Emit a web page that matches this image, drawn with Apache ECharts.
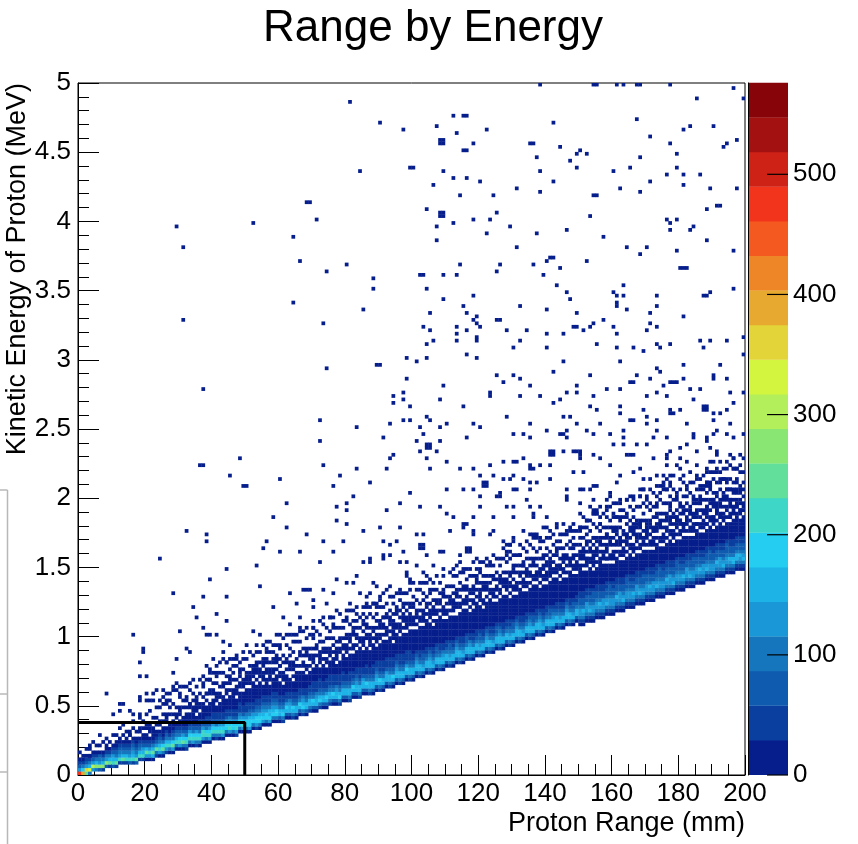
<!DOCTYPE html>
<html>
<head>
<meta charset="utf-8">
<script src="https://cdn.jsdelivr.net/npm/echarts@6.0.0/dist/echarts.min.js"></script>
<style>
html,body{margin:0;padding:0;background:#fff;}
#chart{width:858px;height:844px;}
</style>
</head>
<body>
<div id="chart"></div>
<script>
// ---- histogram definition ----
var xBin = 1;        // mm per bin (200 bins over 0..200)
var yBin = 0.025;    // MeV per bin (200 bins over 0..5)
var zStep = 28.8;    // counts per colour contour (20 contours)

var xTicks = [0, 20, 40, 60, 80, 100, 120, 140, 160, 180, 200];
var yTicks = [0, 0.5, 1, 1.5, 2, 2.5, 3, 3.5, 4, 4.5, 5];
var zTicks = [0, 100, 200, 300, 400, 500];

var paletteColors = ['#061e8c','#0a3e9f','#0f5bb0','#1576bd','#1a97d6','#1db3e7','#25cef1','#3ed6c6','#62df9a','#8ae672',
                     '#b2ef5a','#d4f540','#e3d43a','#e7a92f','#ee8526','#f45a20','#f3341c','#cf2216','#a31210','#870509'];

var cutLine = [[0, 0.38], [50, 0.38], [50, 0]];

// contour level of each cell along the main band, one string per x bin,
// starting at y bin bandBase[x]; '.' = empty, '1'..'9','a'..'k' = level 1..20
var levelChars = '123456789abcdefghijk';
var bandBase = [
 0,0,0,0,1,1,1,1,2,2,
 2,2,3,3,3,3,3,3,4,4,
 4,4,4,5,5,5,6,6,6,7,
 7,7,7,8,8,8,8,9,9,9,
 10,10,10,10,11,11,11,11,12,12,
 12,12,13,13,13,14,14,14,15,15,
 15,15,16,16,16,16,17,17,17,18,
 18,18,19,19,19,20,20,20,20,21,
 21,21,22,22,22,23,23,23,23,24,
 24,24,25,25,25,26,26,26,27,27,
 27,28,28,28,29,29,29,30,30,30,
 31,31,31,32,32,32,33,33,33,34,
 34,34,35,35,35,36,36,36,37,37,
 37,38,38,38,39,39,39,40,40,40,
 41,41,41,42,42,42,43,43,43,44,
 43,43,44,44,44,45,45,45,46,46,
 46,47,47,47,48,48,48,49,49,49,
 50,50,50,51,51,51,52,52,52,53,
 53,53,54,54,54,55,55,55,56,56,
 56,57,57,57,58,58,58,59,59,59
];
var bandLevels = [
 // 0-9
 "h5321.1","e74211","9d5321.1","4c6421.1","5b5321..1","4a6421.1","3a5431.1","2a6421..1","3a54211.1","296421.1",
 // 10-19
 "3865321..1","29643211.1","28543211","2964321.1..1","28643211.1","3854321.11","28654321..1.1","39543211.1","2864321.11..1","28653211.1.1",
 // 20-29
 "15963211.11..1...1","1585321.111...1..1","1696421111..1....1","24953211.1.1..1...","15864321.11...1.1","149742111.1.1....1","25864321.111..1..1","148642111..1.1...1","1597432111.1..1...1","14864321.11.1....1.1",
 // 30-39
 "158743211.111..1..1","1497532111..1.1...1","24874321111.1..1..1","1487532111.11...1.1","15874321111..1.1...1","248753211.111.1..1","1487432211.11..1...1","158853211111.1..1..1","14874322111.1.1...1","158753221111..11..1.1",
 // 40-49
 "148753221111.11.1..1...1","2487432211.111..1.1..1","14875322111.11.1...1..1","1587532211111..11..1...1","14775322111.11.1.1...1","158754221111.1.11..1..1","14775322111111..1.1...1","25875322111.111.1...1..1","147754222111.11.11..1","158753221111.111..1..1.1",
 // 50-59
 "1477542221111.1.11...1","1577643221111.111..1...1","14765322111111.11.1..1","2577543221111.1.111...1.1","14776432211111..11.1..1","157654322111.111.1.1...1","14775432211111.11..1.1..1","157664322111.1111.1..1..1","1476543221111.11.11...1","14775432211111.1.111..1..1",
 // 60-69
 "136643221111.11.1.1..1...1","24764322111.111..1.1....1","1367532211111.1.11...1..1","136654221111..111.1.1...1","24674322111.1.111..1..1","13664322111111.1.1....1.1","1367432211111.1..11..1...1","2476542211111.11.1.1....1","136643221111.11..111..1..1","246643221111.1.11.1...1",
 // 70-79
 "1367432221111.111.1..1..1.1","13665422211111..1.11...1","247643222111.1111..1.1...1","1366432211111.1.11.1....1.1","136753222111.11.11..1..1","2466432221111.111..1.1...1","13674322211111.1.1.1..1..1","136654222111.1111.1...1","2476432221111..11.11..1...1","13664322211111.11.1..1.1",
 // 80-89
 "1366432211111.111.11...1..1","24664322211111.1.111..1...1","1367432211111.11..111.1..1","13665432211111.1.11.1...1.1","246643222111111.11..1..1","1366532211111.111.1.11...1","13674322211111..11.11.1..1..1","2466432211111.1111.1...1.1","136643222111111.1.11..1...1","1366543221111.111.1.1.1..1",
 // 90-99
 "24674322211111.11.111...1..1","136643222111111.1.11.1..1","13665322211111.111..11..1...1","246643222111111.1.111.1...1","1367432221111.1111.1.1..1.1","136654322111111.11..111...1","24664322211111.111.1.1..1..1","136643222111111.1.11..1...1","13675322211111.1111.1.1..1","246643222111111.11.1.11...1..1",
 // 100-109
 "136643221111111.111..11.1...1","13665432111111.1.111..1..1","246643221111111.11.1.1...1.1","136543321111111.1111..1.1..1","1366432211111111.1.11.1...1","246654321111111.111.1..11..1","13654322111111.1.111.1..1.1","136643321111111.11.11..1...1","2466432211111111.1.11.1..1","136654221111111.111..111...1.1",
 // 110-119
 "13664322111111.11.1.1..1","246543321111111.1.111..1...1","136643221111111.1111.1.1..1.1","13665432111111..11.111...1","246643221111111.11.1.1.1..1..1","1365432211111111.11..11...1","136643321111111.111.11.1..1","24665422111111.1.1.11...1.1","136643221111111.11.111..1...1","1366432211111111.1.1.11..1..1",
 // 120-129
 "246543321111111.1111.1..1..1","13664322111111.11..111.1...1","136654321111111.1.111.1..1.1","2466432211111111.11.1.1...1","136543221111111.111..11..1..1","13664332111111.1.11.1.1...1","246654321111111.11.111..1.1","1366432211111111..111.1...1..1","136643221111111.1111.1..1..1","24654322111111.1.11.11...1.1",
 // 130-139
 "136643321111111.11.1.111..1...1","13665432111111.111..1.1..1","2466432211111111.1.11.1..1..1","136543221111111.111.1.11...1","13664322111111.11.111..1.1..1","246654321111111.1.11.1.1...1","1366433211111111.11..111..1..1","136643221111111.111.1.1.1...1","24665432111111.1.111..1..1.1","136543221111111.11.11.11...1",
 // 140-149
 "13664322111111.111.1..1.1..1","246643321111111.1.1111.1...1","1366543211111111.11.1.1..1..1","136643221111111.111..111.1...1","24654322111111.1.11.1..1.1","136643221111111.11.111.1...1..1","13665432111111.1.1.11..1...1","2466432211111111.111..1.1..1","136543321111111.11.11.11...1.1","13664322111111.111.1..1...1",
 // 150-159
 "124554332211111.11.111.1.1..1...1","1245643322111111.1.1111..1..1..1","124555332211111.111.1.11...1.1","1246543322111111.11.11.1..1..1...1","124554333211111.1111..1.1...1..1","124554332211111.1.111.11..1...1","124564332211111.11.1.111...1.1..1","1245553322111111.111.1.1..1...1","124654332211111.1.111.11.1..1..1","124554333211111.11..111..1.1...1",
 // 160-169
 "124554332211111.111.1.1.11...1..1","1245643322111111.1.11.111..1...1","124555332211111.11.111..1.1..1..1","124654332211111.111.1.11...1.1","124554333211111.1.1111..1..1...1","1245543322111111.11.1.11.1...1..1","124564332211111.111..111..1.1..1","124555332211111.1.111.1.1...1","124654332211111.11.11.111...1..1.1","1245543332111111.111.1..1.1..1...1",
 // 170-179
 "124554332211111.1.1111.1...1..1","124564332211111.11.1.111..1.1...1","124555332211111.111.11..1..1...1","1246543322111111.1.111.11.1..1..1","124554333211111.11..111.1...1.1","124554332211111.111.1.1.1..1...1","124564332211111.1.11.111..1...1..1","1245553322111111.11.11..1.1.1..1","124654332211111.111.1.11...1..1...1","124554333211111.1.1111.1..1.1",
 // 180-189
 "124554332211111.11.11.1.11...1..1","1245643322111111.111..111..1...1.1","124555332211111.1.111.1.1.1..1","124654332211111.11.1.111...1..1..1","124554333211111.111.11..1.1...1","1245543322111111.1.111.11..1..1...1","124564332211111.11.1.1.111..1.1","124555332211111.111.11..1...1..1","124654332211111.1.1111.1.1..1...1","1245543332111111.11.1.11..11...1..1",
 // 190-199
 "124554332211111.111..111.1...1.1","124564332211111.1.11.1.11..1...1","1245553322111111.11.111..1.1..1..1","124654332211111.111.1.111...1..1","124554333211111.1.11.11.1.1...1.1","124564332211111.11.111..1..1...1","1246643322111111.111.1.11.1...1..1","124664332211111.1.111.1..11..1","124564332211111.11.11.111...1.1..1","1246543322111111.111.1.1.1..1...1"
];

// isolated single-count cells away from the band: [x bin, y bin]
var sparseCells = [
 [81,194],[90,188],[97,186],[84,174],[99,175],[68,165],[69,165],[71,160],[29,158],[52,159],[31,152],[64,155],[66,148],[74,145],[80,147],[88,143],[88,140],[64,136],[85,134],[31,131],[73,130],[98,120],[89,118],[90,118],[74,117],[98,114],[37,111],[94,109],[97,110],[94,107],[97,108],[99,106],[72,102],[83,100],[93,101],[97,102],[99,102],[91,97],[72,96],[94,92],[93,91],[48,91],[36,89],[37,89],[73,89],[92,88],[83,88],[45,86],[60,85],[78,86],[49,83],[50,83],[76,83],[87,84],[82,80],[99,81],[62,78],[77,77],[80,78],[80,76],[92,76],[96,78],[58,74],[77,73],[80,72],[32,70],[38,69],[38,67],[62,71],[68,69],[85,70],[90,71],[96,71],[56,67],[73,67],[79,67],[91,67],[93,66],[95,67],[55,65],[60,64],[66,64],[76,64],[97,64],[24,62],[91,62],[91,63],[93,63],[53,60],[72,61],[85,61],[87,61],[87,62],[96,61],[98,61],[44,59],
 [39,56],[54,54],[28,52],[37,51],[44,51],[63,52],[67,53],[68,53],[69,53],[70,50],[73,53],[76,52],[77,56],[80,55],[82,55],[83,57],[84,52],[87,52],[88,55],[89,54],[91,52],[93,54],[96,52],[98,57],[98,58],[99,55],[34,48],[35,45],[41,46],[44,44],[58,48],[61,45],[63,43],[65,49],[66,45],[70,48],[70,42],[74,49],[75,45],[76,43],[77,47],[80,45],[81,49],[83,44],[85,46],[86,49],[88,49],[89,48],[90,50],[91,45],[94,43],[97,49],[97,46],[99,45],[16,40],[30,41],[37,42],[38,40],[39,40],[41,40],[43,38],[45,37],[50,37],[52,41],[54,40],[56,36],[60,37],[64,40],[66,41],[70,40],
 [19,35],[19,36],[18,32],[29,33],[32,36],[33,35],[28,29],[18,28],[20,28],[38,31],[39,30],[41,29],[39,27],[43,35],[44,32],[46,31],[45,28],[47,33],[48,30],[50,27],[51,29],[52,30],[53,32],[54,28],[55,32],[56,32],[58,35],[59,33],[60,31],
 [8,23],[12,20],[12,18],[10,17],[6,11],[3,5],[3,8],[12,13],[15,11],[15,18],[16,17],[18,17],[18,21],[18,22],[20,23],[22,23],[23,24],[25,24],[26,21],[25,20],[27,21],[28,25],[30,23],[32,21],[33,20],[34,19],[35,21],[37,26],[38,23],[40,20],[13,20],
 [138,199],[154,199],[155,199],[161,199],[163,199],[167,199],[168,199],[177,199],[196,198],[199,195],[185,195],[112,190],[115,190],[116,190],[167,189],[107,187],[142,188],[183,187],[190,187],[113,185],[122,186],[108,183],[109,183],[108,182],[109,182],[118,182],[135,182],[136,182],[171,184],[181,186],[177,182],[194,182],[193,181],[197,183],[115,180],[116,180],[144,181],[150,180],[149,179],[152,179],[137,178],[147,177],[168,178],[179,179],[100,175],[109,174],[138,174],[149,175],[160,174],[165,175],[179,175],[112,172],[116,172],[120,171],[142,171],[171,171],[176,173],[181,173],[186,173],[106,170],[131,169],[138,168],[162,169],[168,168],[181,170],[189,169],[197,169],[114,167],[124,167],[154,167],[155,167],[104,163],[108,162],[109,162],[108,161],[109,161],[118,160],[123,160],[125,162],[112,159],[153,161],[176,160],[177,159],[179,160],[188,163],[191,164],[192,164],[107,158],[129,158],[122,156],[137,156],[146,157],[157,155],[177,157],[183,157],[184,158],[107,154],[131,152],[164,152],[170,152],[168,150],[188,154],[179,151],[196,151],
 [114,147],[126,147],[136,147],[141,149],[142,149],[140,148],[152,148],[144,146],[102,144],[103,144],[109,144],[113,144],[125,145],[139,144],[180,146],[181,146],[182,146],[104,140],[118,138],[109,137],[143,141],[146,139],[147,137],[160,139],[161,138],[163,141],[163,138],[161,135],[161,136],[173,138],[187,138],[188,138],[189,139],[196,140],[115,135],[132,135],[140,134],[164,134],[173,135],[105,133],[116,133],[118,131],[119,132],[119,130],[125,131],[126,131],[149,133],[154,130],[157,131],[171,133],[171,130],[181,132],[103,129],[105,128],[113,129],[113,127],[116,128],[120,129],[128,128],[134,128],[148,129],[149,129],[153,129],[151,128],[160,129],[170,128],[173,129],[140,127],[145,127],[161,127],[106,125],[113,125],[119,125],[119,126],[132,125],[186,125],[189,125],[194,125],[199,126],[104,124],[130,123],[140,123],[155,124],[161,123],[166,123],[169,122],[173,124],[174,123],[177,124],[187,123],[199,121],[116,121],[119,120],[104,120],[101,119],[145,119],[162,119],[173,117],[174,116],[181,118],[192,118],[142,116],[125,115],[127,113],[130,115],[132,114],[153,115],[167,115],[171,114],[181,114],[190,114],[190,115],[194,114],[109,112],[135,112],[149,112],[165,113],[166,113],[177,113],[178,113],[179,113],[175,112],[158,111],[162,111],[183,111],[186,111],[146,110],[149,110],[173,110],[195,110],[199,110],[123,109],[123,110],[132,109],[138,109],[154,109],[170,109],[176,109],[108,108],[142,107],[144,108],[184,108],[196,107],[115,106],[153,106],[155,105],[162,106],[169,105],[177,105],[180,105],[187,105],[188,105],[187,106],[188,106],[194,105],[162,104],[145,103],[147,103],[104,103],[105,102],[128,103],[165,102],[166,102],[170,103],[173,102],[177,104],[178,104],[190,102],[192,104],[190,104],[110,101],[118,101],[135,101],[149,101],[156,101],[170,101],[182,101],[195,101],
 [102,100],[103,98],[108,100],[120,100],[130,98],[133,98],[140,99],[144,98],[145,98],[146,99],[152,99],[154,98],[159,98],[163,99],[173,99],[176,97],[184,98],[191,99],[194,98],[199,98],[190,98],
 [101,96],[104,95],[105,95],[104,94],[105,94],[108,96],[116,97],[135,97],[146,97],[163,97],[167,95],[163,95],[170,95],[172,97],[182,95],[184,97],[188,96],[188,97],[196,97],
 [102,93],[107,93],[141,92],[142,92],[141,93],[142,93],[145,93],[148,93],[149,93],[150,93],[154,92],[160,95],[164,92],[165,92],[166,92],[177,93],[180,94],[185,93],[189,94],[191,92],[191,93],[195,92],
 [104,91],[110,90],[127,90],[130,90],[131,90],[133,91],[135,89],[138,89],[150,91],[150,92],[156,91],[159,89],[172,91],[176,92],[176,91],[180,91],[179,89],[182,90],[180,88],[176,89],[190,90],[196,91],[197,88],
 [105,88],[114,88],[118,88],[120,86],[123,89],[124,86],[127,85],[129,85],[130,86],[133,85],[135,88],[136,88],[141,89],[141,85],[148,87],[151,87],[162,86],[166,87],[168,88],[169,85],[171,85],[173,86],[175,86],[177,86],[185,86],[188,87],[191,87],[193,85],[194,85],[196,88],
 [121,84],[122,84],[121,83],[122,83],[110,82],[115,82],[118,82],[120,80],[130,82],[131,82],[135,84],[135,82],[137,84],[146,82],[150,82],[153,82],[154,83],[155,83],[161,84],[169,82],[174,83],[175,83],[175,84],[176,82],[177,84],[182,82],[186,82],[187,82],[188,83],[189,83],[188,84],[189,84],[192,85],[194,82],[195,82],[197,82],
 [102,77],[108,77],[110,75],[120,77],[125,80],[126,80],[126,81],[128,77],[130,77],[134,79],[135,77],[138,77],[146,79],[146,80],[150,78],[151,82],[154,79],[154,75],[155,75],[154,76],[155,76],[158,79],[159,80],[159,81],[162,78],[164,79],[166,80],[168,80],[170,79],[173,78],[177,77],[179,80],[184,79],[186,78],[188,77],[190,79],[191,76],[191,77],[195,79],[196,77],[197,77],[198,76],
 [112,74],[118,74],[124,74],[115,72],[116,72],[118,70],[111,70],[130,74],[136,74],[136,75],[140,74],[143,72],[147,71],[150,71],[152,73],[156,72],[158,76],[160,74],[161,74],[162,74],[164,74],[166,72],[167,72],[168,72],[170,72],[166,70],[170,70],[172,70],[174,72],[177,74],[179,74],[180,73],[181,72],[183,75],[184,74],[185,72],[188,72],[190,74],[192,74],[195,74],[197,74],[199,73],
 [101,69],[103,69],[102,66],[103,66],[102,65],[103,65],[115,71],[118,69],[123,69],[124,70],[127,67],[129,66],[130,68],[133,70],[135,69],[136,69],[137,69],[138,68],[139,71],[140,71],[141,70],[144,69],[146,69],[148,68],[150,70],[152,69],[154,68],[156,70],[158,69],[160,70],[162,68],[164,69],
 [104,63],[108,64],[109,64],[101,60],[103,58],[104,57],[106,60],[113,60],[115,59],[116,65],[117,65],[116,64],[117,64],[114,63],[120,59],[123,60],[119,57],[128,63],[128,66],[129,66],[132,63],[133,60],[134,58],[137,58],[141,58],[140,61],[144,60],[147,62],[149,60],[150,58],[152,62],[154,64],[156,60],[158,62],[156,58]
];

// ---- build cells ----
var cells = [];
bandLevels.forEach(function (s, i) {
  for (var p = 0; p < s.length; p++) {
    var c = s.charAt(p);
    if (c === '.') continue;
    var L = levelChars.indexOf(c);
    cells.push([i * xBin, (bandBase[i] + p) * yBin, Math.round((L + 0.5) * zStep)]);
  }
});
sparseCells.forEach(function (d) {
  cells.push([d[0] * xBin, d[1] * yBin, 1]);
});

var pieces = paletteColors.map(function (c, i) {
  return { gte: i * zStep, lt: (i + 1) * zStep, color: c };
});
var barData = paletteColors.map(function (c, i) { return [0, i * zStep, (i + 1) * zStep]; });
var zTickData = zTicks.map(function (v) { return [1, v]; });

var FONT = 'Liberation Sans';
var chart = echarts.init(document.getElementById('chart'), null, { renderer: 'canvas' });
chart.setOption({
  animation: false,
  backgroundColor: '#ffffff',
  grid: [
    { left: 78, top: 83, width: 667, height: 692, show: true, borderColor: '#000', borderWidth: 1, backgroundColor: 'transparent' },
    { left: 748, top: 83, width: 40, height: 692 }
  ],
  xAxis: [
    { type: 'value', gridIndex: 0, min: xTicks[0], max: xTicks[xTicks.length - 1], interval: xTicks[1] - xTicks[0],
      axisLine: { show: true, onZero: false, lineStyle: { color: '#000', width: 1 } },
      axisTick: { show: true, inside: true, length: 20, lineStyle: { color: '#000', width: 1 } },
      minorTick: { show: true, splitNumber: 4, length: 11, lineStyle: { color: '#000', width: 1 } },
      axisLabel: { color: '#000', fontSize: 26, fontFamily: FONT, margin: 6 },
      splitLine: { show: false }, minorSplitLine: { show: false } },
    { type: 'value', gridIndex: 1, min: 0, max: 1, show: false }
  ],
  yAxis: [
    { type: 'value', gridIndex: 0, min: yTicks[0], max: yTicks[yTicks.length - 1], interval: yTicks[1] - yTicks[0],
      axisLine: { show: true, onZero: false, lineStyle: { color: '#000', width: 1 } },
      axisTick: { show: true, inside: true, length: 21, lineStyle: { color: '#000', width: 1 } },
      minorTick: { show: true, splitNumber: 5, length: 11, lineStyle: { color: '#000', width: 1 } },
      axisLabel: { color: '#000', fontSize: 26, fontFamily: FONT, margin: 7 },
      splitLine: { show: false }, minorSplitLine: { show: false } },
    { type: 'value', gridIndex: 1, position: 'right', min: 0, max: paletteColors.length * zStep, z: 6,
      axisLine: { show: true, lineStyle: { color: '#000', width: 1 } },
      axisTick: { show: false },
      axisLabel: { color: '#000', fontSize: 26, fontFamily: FONT, margin: 5, customValues: zTicks },
      splitLine: { show: false } }
  ],
  visualMap: { type: 'piecewise', show: false, seriesIndex: 0, dimension: 2, pieces: pieces },
  series: [
    { type: 'custom', xAxisIndex: 0, yAxisIndex: 0, data: cells, progressive: 0, clip: true,
      encode: { x: 0, y: 1 },
      renderItem: function (params, api) {
        var x = api.value(0), y = api.value(1);
        var a = api.coord([x, y + yBin]);
        var b = api.coord([x + xBin, y]);
        return { type: 'rect', shape: { x: a[0], y: a[1] - 0.3, width: b[0] - a[0] + 0.4, height: b[1] - a[1] + 0.3 },
                 style: { fill: api.visual('color') } };
      } },
    { type: 'custom', xAxisIndex: 1, yAxisIndex: 1, data: barData, progressive: 0,
      encode: { x: 0, y: [1, 2] },
      renderItem: function (params, api) {
        var a = api.coord([0, api.value(2)]);
        var b = api.coord([1, api.value(1)]);
        return { type: 'rect', shape: { x: a[0], y: a[1] - 0.3, width: b[0] - a[0], height: b[1] - a[1] + 0.3 },
                 style: { fill: paletteColors[params.dataIndex] } };
      } },
    { type: 'custom', xAxisIndex: 1, yAxisIndex: 1, data: zTickData, progressive: 0, z: 5,
      encode: { x: 0, y: 1 },
      renderItem: function (params, api) {
        var p = api.coord([api.value(0), api.value(1)]);
        return { type: 'line', shape: { x1: p[0] - 21, y1: p[1], x2: p[0], y2: p[1] },
                 style: { stroke: '#000', lineWidth: 1.2 } };
      } },
    { type: 'line', xAxisIndex: 0, yAxisIndex: 0, data: cutLine, symbol: 'none', z: 5,
      lineStyle: { color: '#000', width: 3 } }
  ],
  graphic: [
    { type: 'text', x: 433, y: 29, z: 10, style: { text: 'Range by Energy', fontSize: 44, fontFamily: FONT, fill: '#000', align: 'center', verticalAlign: 'middle' } },
    { type: 'text', x: 745, y: 824, z: 10, style: { text: 'Proton Range (mm)', fontSize: 27, fontFamily: FONT, fill: '#000', align: 'right', verticalAlign: 'middle' } },
    { type: 'text', x: 18, y: 83, rotation: Math.PI / 2, z: 10, style: { text: 'Kinetic Energy of Proton (MeV)', fontSize: 27, fontFamily: FONT, fill: '#000', align: 'right', verticalAlign: 'middle' } },
    { type: 'line', z: 1, shape: { x1: 7.5, y1: 490, x2: 7.5, y2: 844 }, style: { stroke: '#b8b8b8', lineWidth: 1.5 } },
    { type: 'line', z: 1, shape: { x1: 0, y1: 490, x2: 7.5, y2: 490 }, style: { stroke: '#b8b8b8', lineWidth: 1.5 } },
    { type: 'line', z: 1, shape: { x1: 0, y1: 694, x2: 7.5, y2: 694 }, style: { stroke: '#b8b8b8', lineWidth: 1.5 } },
    { type: 'line', z: 1, shape: { x1: 0, y1: 772, x2: 7.5, y2: 772 }, style: { stroke: '#b8b8b8', lineWidth: 1.5 } }
  ]
});
</script>
</body>
</html>
